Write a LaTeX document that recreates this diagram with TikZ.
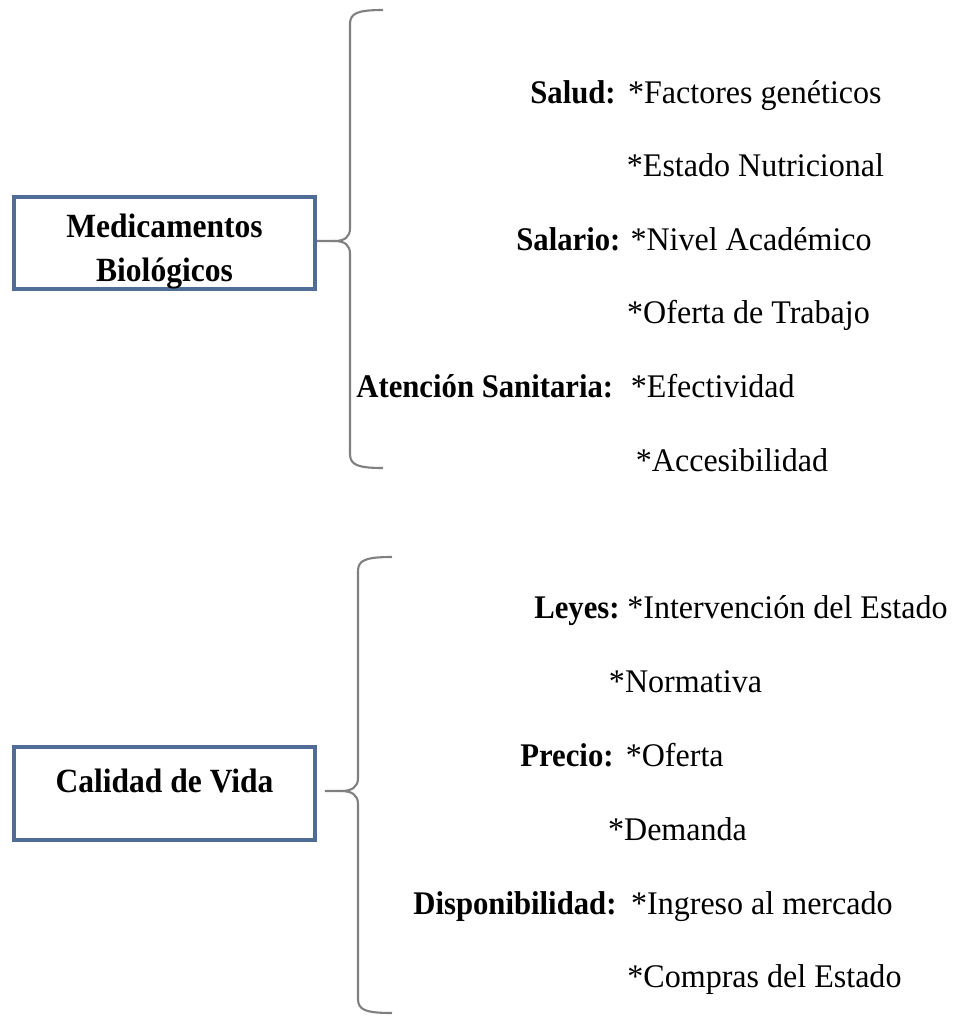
\documentclass[tikz,border=0pt]{standalone}
\usepackage{fontspec}
\setmainfont{Liberation Serif}[FakeStretch=0.97, BoldFeatures={FakeStretch=0.93}]
\usetikzlibrary{positioning}
\definecolor{boxblue}{RGB}{79,109,150}
\definecolor{bracegray}{RGB}{128,128,128}

\begin{document}
\begin{tikzpicture}[x=0.02cm, y=-0.02cm,
    topic/.style={draw=boxblue, line width=2.3pt, minimum width=6.02cm, minimum height=1.84cm, inner sep=0pt},
    topictext/.style={font=\fontsize{19.3}{25}\selectfont\bfseries, align=center, inner sep=0pt},
    factor/.style={font=\fontsize{18.8}{22}\selectfont\bfseries, anchor=base west, inner sep=0pt},
    item/.style={font=\fontsize{18.8}{22}\selectfont, anchor=base, inner sep=0pt},
    brace/.style={draw=bracegray, line width=1.2pt}
]
\useasboundingbox (0,0) rectangle (953,1019);

% Box 1: Medicamentos Biologicos
\node[topic] (med) at (164.5,243) {};
\node[topictext, below=0.38cm of med.north] (medtext) {Medicamentos\\Biológicos};

% Brace 1
\coordinate (b1tip) at (334,241);
\coordinate (b1top) at (383,10);
\coordinate (b1bot) at (383,468);
\draw[brace] (med.east |- b1tip) -- (b1tip) .. controls (345,241) and (350,237) .. (350,228) -- (350,24) .. controls (350,13) and (358,10) .. (b1top);
\draw[brace] (b1tip) .. controls (345,241) and (350,245) .. (350,254) -- (350,454) .. controls (350,465) and (358,468) .. (b1bot);

% Factors 1
\node[factor] (salud) at (530,103) {Salud:};
\node[item, anchor=base east] (salud1) at (882,103) {*Factores genéticos};
\node[item] (salud2) at (755.5,176) {*Estado Nutricional};
\node[factor] (salario) at (516,250) {Salario:};
\node[item, anchor=base east] (salario1) at (872,250) {*Nivel Académico};
\node[item] (salario2) at (748.5,323) {*Oferta de Trabajo};
\node[factor] (atencion) at (356,397) {Atención Sanitaria:};
\node[item, anchor=base east] (atencion1) at (795,397) {*Efectividad};
\node[item] (atencion2) at (732,471) {*Accesibilidad};

% Box 2: Calidad de Vida
\node[topic, minimum height=1.86cm] (cal) at (164.5,793.5) {};
\node[topictext, below=0.48cm of cal.north] (caltext) {Calidad de Vida};

% Brace 2
\coordinate (b2tip) at (341,791);
\coordinate (b2top) at (392,557);
\coordinate (b2bot) at (392,1013);
\draw[brace] ([xshift=0.16cm]cal.east |- b2tip) -- (b2tip) .. controls (352,791) and (358,787) .. (358,778) -- (358,571) .. controls (358,560) and (366,557) .. (b2top);
\draw[brace] (b2tip) .. controls (352,791) and (358,795) .. (358,804) -- (358,999) .. controls (358,1010) and (366,1013) .. (b2bot);

% Factors 2
\node[factor] (leyes) at (534,618) {Leyes:};
\node[item, anchor=base east] (leyes1) at (948,618) {*Intervención del Estado};
\node[item] (leyes2) at (685.5,692) {*Normativa};
\node[factor] (precio) at (520,766) {Precio:};
\node[item, anchor=base east] (precio1) at (724,766) {*Oferta};
\node[item] (precio2) at (677.5,840) {*Demanda};
\node[factor] (dispo) at (413,914) {Disponibilidad:};
\node[item, anchor=base east] (dispo1) at (893,914) {*Ingreso al mercado};
\node[item] (dispo2) at (764.5,987) {*Compras del Estado};

\end{tikzpicture}
\end{document}
